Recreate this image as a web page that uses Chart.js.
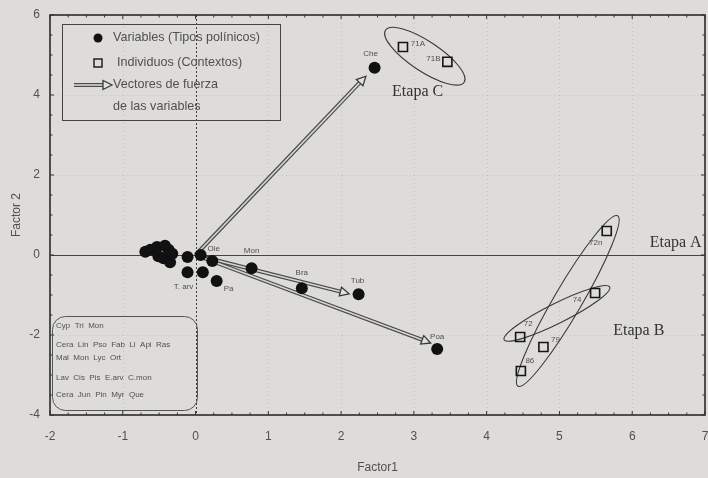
<!DOCTYPE html>
<html>
<head>
<meta charset="utf-8">
<script src="https://cdn.jsdelivr.net/npm/chart.js@4/dist/chart.umd.min.js"></script>
<style>
  html, body { margin: 0; padding: 0; background: #dddcd8; }
  #wrap { width: 708px; height: 478px; }
</style>
</head>
<body>
<div id="wrap"><canvas id="c" width="708" height="478"></canvas></div>
<script>
// Pollen types (variables) on the first two factors
const variableNames = ['', '', '', '', '', '', '', '', '', '', 'Ole', '', 'T. arv', '', 'Pa', 'Mon', 'Bra', 'Tub', 'Poa', 'Che'];
const variableX = [-0.69, -0.62, -0.53, -0.42, -0.37, -0.51, -0.44, -0.35, -0.32, -0.11, 0.07, 0.23, -0.11, 0.10, 0.29, 0.77, 1.46, 2.24, 3.32, 2.46];
const variableY = [0.08, 0.13, 0.20, 0.23, 0.13, -0.03, -0.08, -0.18, 0.03, -0.05, 0.00, -0.15, -0.43, -0.43, -0.65, -0.33, -0.83, -0.98, -2.35, 4.68];

// Archaeological contexts (individuals)
const individualNames = ['71A', '71B', '72n', '74', '72', '79', '86'];
const individualX = [2.85, 3.46, 5.65, 5.49, 4.46, 4.78, 4.47];
const individualY = [5.20, 4.83, 0.60, -0.95, -2.05, -2.30, -2.90];

// Force vectors of the variables, drawn from the origin
const vectorNames = ['Che', 'Tub', 'Poa'];
const vectorX = [2.34, 2.11, 3.23];
const vectorY = [4.47, -0.97, -2.20];

// Stage groupings: ends of each ellipse's long axis
const stageNames = ['Etapa C', 'Etapa A', 'Etapa B'];
const stageX1 = [2.61, 5.80, 4.24];
const stageY1 = [5.62, 0.98, -2.12];
const stageX2 = [3.69, 4.43, 5.69];
const stageY2 = [4.32, -3.28, -0.80];

// Axis ticks
const xTicks = [-2, -1, 0, 1, 2, 3, 4, 5, 6, 7];
const yTicks = [-4, -2, 0, 2, 4, 6];

// Variables grouped near the origin
const clusterLines = [
  'Cyp  Tri  Mon',
  'Cera  Lin  Pso  Fab  Li  Api  Ras',
  'Mal  Mon  Lyc  Ort',
  'Lav  Cis  Pis  E.arv  C.mon',
  'Cera  Jun  Pin  Myr  Que'
];

const legendLines = ['Variables (Tipos polínicos)', 'Individuos (Contextos)', 'Vectores de fuerza', 'de las variables'];

// ---- layout / styling (pixels) ----
const SANS = '"Liberation Sans", Arial, sans-serif';
const SERIF = '"Liberation Serif", "Times New Roman", serif';
const INK = '#2b2b2b';
const TEXT = '#505050';

// label offsets from the marker, in px
const variableLabelOffset = {
  'Ole': [13, -6], 'T. arv': [-4, 15], 'Pa': [12, 8], 'Mon': [0, -17],
  'Bra': [0, -15], 'Tub': [-1, -13], 'Poa': [0, -12], 'Che': [-4, -14]
};
const individualLabelOffset = {
  '71A': [15, -3], '71B': [-14, -3], '72n': [-11, 12], '74': [-18, 7],
  '72': [8, -13], '79': [12, -7], '86': [9, -10]
};
const stageLabelAt = { 'Etapa C': [2.70, 4.07], 'Etapa A': [6.24, 0.30], 'Etapa B': [5.74, -1.90] };
const stageMinor = { 'Etapa C': 15, 'Etapa A': 14, 'Etapa B': 10 };

function drawArrow(ctx, x0, y0, x1, y1) {
  const ang = Math.atan2(y1 - y0, x1 - x0);
  const headLen = 9, headW = 4.5;
  const bx = x1 - headLen * Math.cos(ang), by = y1 - headLen * Math.sin(ang);
  ctx.save();
  ctx.lineCap = 'butt';
  ctx.strokeStyle = '#4a4a4a';
  ctx.lineWidth = 4;
  ctx.beginPath(); ctx.moveTo(x0, y0); ctx.lineTo(bx, by); ctx.stroke();
  ctx.strokeStyle = '#d6d6d2';
  ctx.lineWidth = 1.6;
  ctx.beginPath(); ctx.moveTo(x0, y0); ctx.lineTo(bx + 0.5 * Math.cos(ang), by + 0.5 * Math.sin(ang)); ctx.stroke();
  const px = -Math.sin(ang), py = Math.cos(ang);
  ctx.beginPath();
  ctx.moveTo(x1, y1);
  ctx.lineTo(bx + px * headW, by + py * headW);
  ctx.lineTo(bx - px * headW, by - py * headW);
  ctx.closePath();
  ctx.fillStyle = '#e2e2de';
  ctx.fill();
  ctx.strokeStyle = '#3a3a3a';
  ctx.lineWidth = 1.3;
  ctx.stroke();
  ctx.restore();
}

const backdrop = {
  id: 'backdrop',
  beforeDraw(chart) {
    const ctx = chart.ctx;
    ctx.save();
    ctx.fillStyle = '#dddcd8';
    ctx.fillRect(0, 0, chart.width, chart.height);
    ctx.restore();
  },
  beforeDatasetsDraw(chart) {
    const { ctx, chartArea: a, scales: { x, y } } = chart;
    ctx.save();
    // faint dotted grid
    ctx.strokeStyle = 'rgba(140,140,140,0.3)';
    ctx.lineWidth = 1;
    ctx.setLineDash([1, 3]);
    xTicks.forEach(v => {
      if (v === 0 || v === x.min || v === x.max) return;
      const px = Math.round(x.getPixelForValue(v)) + 0.5;
      ctx.beginPath(); ctx.moveTo(px, a.top); ctx.lineTo(px, a.bottom); ctx.stroke();
    });
    yTicks.forEach(v => {
      if (v === 0 || v === y.min || v === y.max) return;
      const py = Math.round(y.getPixelForValue(v)) + 0.5;
      ctx.beginPath(); ctx.moveTo(a.left, py); ctx.lineTo(a.right, py); ctx.stroke();
    });
    // zero lines
    ctx.strokeStyle = '#3c3c3c';
    ctx.setLineDash([2, 2]);
    const x0 = Math.round(x.getPixelForValue(0)) + 0.5;
    ctx.beginPath(); ctx.moveTo(x0, a.top); ctx.lineTo(x0, a.bottom); ctx.stroke();
    ctx.setLineDash([]);
    ctx.lineWidth = 1.2;
    ctx.strokeStyle = '#444';
    const y0 = Math.round(y.getPixelForValue(0)) + 0.5;
    ctx.beginPath(); ctx.moveTo(a.left, y0); ctx.lineTo(a.right, y0); ctx.stroke();
    // frame
    ctx.strokeStyle = INK;
    ctx.lineWidth = 1.6;
    ctx.strokeRect(a.left, a.top, a.right - a.left, a.bottom - a.top);
    // minor ticks, pointing inward
    ctx.lineWidth = 1;
    ctx.strokeStyle = '#333';
    for (let v = x.min; v <= x.max + 1e-9; v += 0.25) {
      const px = x.getPixelForValue(v);
      const len = Math.abs(v - Math.round(v)) < 1e-9 ? 4 : 2.5;
      ctx.beginPath(); ctx.moveTo(px, a.bottom); ctx.lineTo(px, a.bottom - len); ctx.stroke();
      ctx.beginPath(); ctx.moveTo(px, a.top); ctx.lineTo(px, a.top + len); ctx.stroke();
    }
    for (let v = y.min; v <= y.max + 1e-9; v += 0.5) {
      const py = y.getPixelForValue(v);
      const len = Math.abs(v / 2 - Math.round(v / 2)) < 1e-9 ? 4 : 2.5;
      ctx.beginPath(); ctx.moveTo(a.left, py); ctx.lineTo(a.left + len, py); ctx.stroke();
      ctx.beginPath(); ctx.moveTo(a.right, py); ctx.lineTo(a.right - len, py); ctx.stroke();
    }
    // stage ellipses
    ctx.strokeStyle = '#3a3a3a';
    ctx.lineWidth = 1.1;
    stageNames.forEach((n, i) => {
      const p1x = x.getPixelForValue(stageX1[i]), p1y = y.getPixelForValue(stageY1[i]);
      const p2x = x.getPixelForValue(stageX2[i]), p2y = y.getPixelForValue(stageY2[i]);
      const cx = (p1x + p2x) / 2, cy = (p1y + p2y) / 2;
      const half = Math.hypot(p2x - p1x, p2y - p1y) / 2;
      const ang = Math.atan2(p2y - p1y, p2x - p1x);
      ctx.beginPath();
      ctx.ellipse(cx, cy, half, stageMinor[n], ang, 0, Math.PI * 2);
      ctx.stroke();
    });
    // force vectors
    const ox = x.getPixelForValue(0), oy = y.getPixelForValue(0);
    vectorNames.forEach((n, i) => {
      drawArrow(ctx, ox, oy, x.getPixelForValue(vectorX[i]), y.getPixelForValue(vectorY[i]));
    });
    ctx.restore();
  },
  afterDatasetsDraw(chart) {
    const { ctx, chartArea: a, scales: { x, y } } = chart;
    ctx.save();
    ctx.textAlign = 'center';
    ctx.textBaseline = 'middle';
    ctx.fillStyle = TEXT;
    ctx.font = '8px ' + SANS;
    variableNames.forEach((n, i) => {
      if (!n) return;
      const o = variableLabelOffset[n] || [0, -12];
      ctx.fillText(n, x.getPixelForValue(variableX[i]) + o[0], y.getPixelForValue(variableY[i]) + o[1]);
    });
    individualNames.forEach((n, i) => {
      const o = individualLabelOffset[n] || [0, -12];
      ctx.fillText(n, x.getPixelForValue(individualX[i]) + o[0], y.getPixelForValue(individualY[i]) + o[1]);
    });
    // stage names
    ctx.textAlign = 'left';
    ctx.fillStyle = '#333';
    ctx.font = '16px ' + SERIF;
    stageNames.forEach(n => {
      const p = stageLabelAt[n];
      ctx.fillText(n, x.getPixelForValue(p[0]), y.getPixelForValue(p[1]));
    });

    // legend box
    const lx = a.left + 12, ly = a.top + 9, lw = 218, lh = 96;
    ctx.strokeStyle = '#444';
    ctx.lineWidth = 1;
    ctx.strokeRect(lx + 0.5, ly + 0.5, lw, lh);
    ctx.fillStyle = '#111';
    ctx.beginPath(); ctx.arc(lx + 36, ly + 14, 4.5, 0, Math.PI * 2); ctx.fill();
    ctx.strokeStyle = '#222';
    ctx.lineWidth = 1.5;
    ctx.strokeRect(lx + 32, ly + 35, 8, 8);
    drawArrow(ctx, lx + 12, ly + 61, lx + 50, ly + 61);
    ctx.fillStyle = TEXT;
    ctx.font = '12.6px ' + SANS;
    ctx.fillText(legendLines[0], lx + 51, ly + 14);
    ctx.fillText(legendLines[1], lx + 55, ly + 39);
    ctx.fillText(legendLines[2], lx + 51, ly + 61);
    ctx.fillText(legendLines[3], lx + 51, ly + 83);

    // rounded box listing the variables grouped near the origin
    const bx = a.left + 2, by = a.top + 301, bw = 145, bh = 94, r = 13;
    ctx.strokeStyle = '#555';
    ctx.lineWidth = 1;
    ctx.beginPath();
    ctx.roundRect(bx + 0.5, by + 0.5, bw, bh, r);
    ctx.stroke();
    ctx.fillStyle = TEXT;
    ctx.font = '8px ' + SANS;
    const rowY = [10, 29, 42, 62, 79];
    clusterLines.forEach((t, i) => ctx.fillText(t, bx + 4, by + rowY[i]));
    ctx.restore();
  }
};

const tickFont = { size: 12, family: SANS };

new Chart(document.getElementById('c'), {
  type: 'scatter',
  data: {
    datasets: [
      {
        label: legendLines[0],
        data: variableX.map((v, i) => ({ x: v, y: variableY[i] })),
        pointStyle: 'circle',
        pointRadius: 6,
        backgroundColor: '#111',
        borderColor: '#111',
        borderWidth: 0
      },
      {
        label: legendLines[1],
        data: individualX.map((v, i) => ({ x: v, y: individualY[i] })),
        pointStyle: 'rect',
        pointRadius: 6.4,
        backgroundColor: 'rgba(0,0,0,0)',
        borderColor: '#151515',
        borderWidth: 1.6
      }
    ]
  },
  options: {
    responsive: false,
    animation: false,
    events: [],
    layout: { autoPadding: false, padding: { top: 15, right: 3, left: 0, bottom: 0 } },
    plugins: { legend: { display: false }, tooltip: { enabled: false } },
    scales: {
      x: {
        type: 'linear', min: -2, max: 7,
        afterBuildTicks(s) { s.ticks = xTicks.map(v => ({ value: v })); },
        afterFit(s) { s.height = 63; s.paddingLeft = 0; s.paddingRight = 0; },
        ticks: { color: TEXT, font: tickFont, padding: 14, maxRotation: 0, autoSkip: false },
        grid: { display: false, drawTicks: false },
        border: { display: false },
        title: { display: true, text: 'Factor1', color: TEXT, font: tickFont, padding: { top: 0, bottom: 3 } }
      },
      y: {
        type: 'linear', min: -4, max: 6,
        afterBuildTicks(s) { s.ticks = yTicks.map(v => ({ value: v })); },
        afterFit(s) { s.width = 50; s.paddingTop = 0; s.paddingBottom = 0; },
        ticks: { color: TEXT, font: tickFont, padding: 10, autoSkip: false },
        grid: { display: false, drawTicks: false },
        border: { display: false },
        title: { display: true, text: 'Factor 2', color: TEXT, font: tickFont, padding: { top: 9, bottom: 0 } }
      }
    }
  },
  plugins: [backdrop]
});
</script>
</body>
</html>
